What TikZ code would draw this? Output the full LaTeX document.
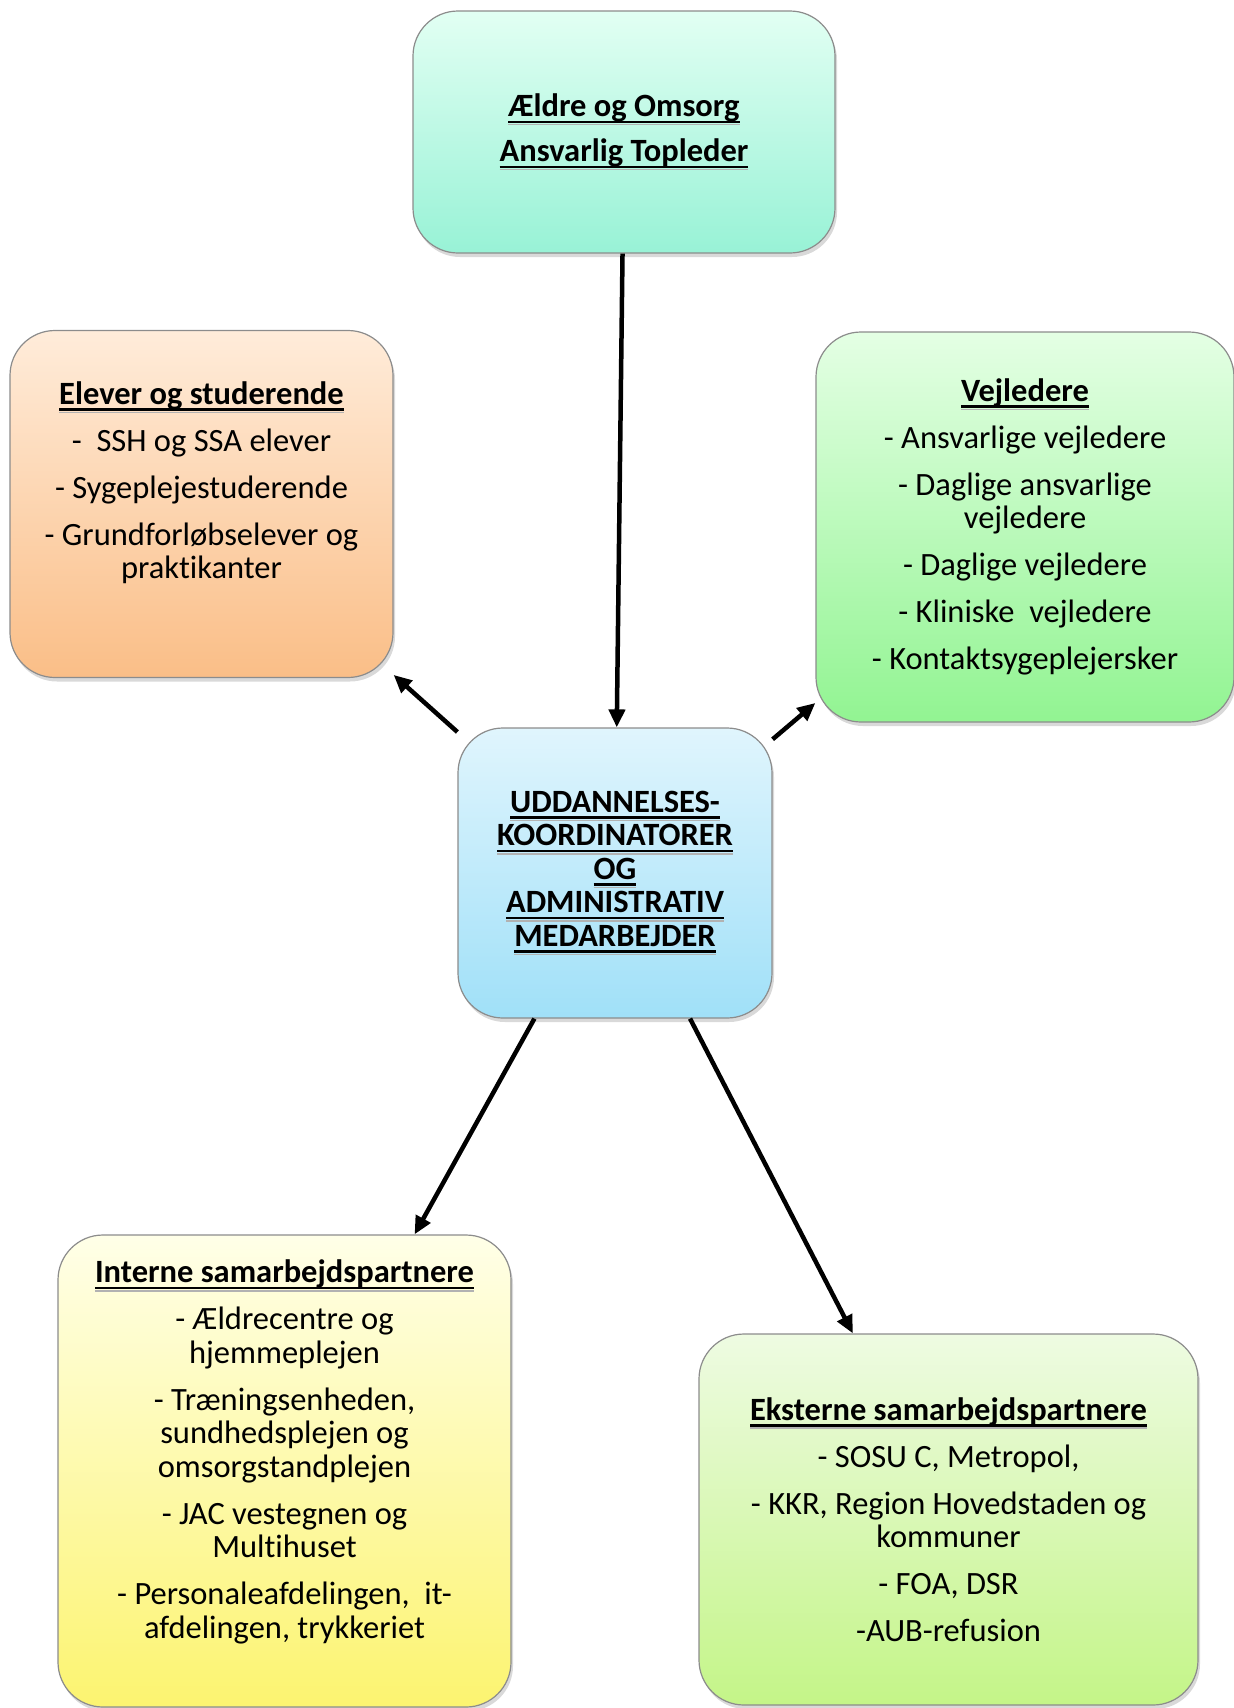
\documentclass[tikz,border=0pt]{standalone}
\usepackage{fontspec}
\setmainfont{Carlito}[Ligatures=CommonOff]
\usepackage{xcolor}
\usepackage{tikz}
\usetikzlibrary{arrows.meta, shadows}
\definecolor{boxline}{RGB}{140,140,140}
\definecolor{ledertop}{RGB}{226,255,243}
\definecolor{lederbot}{RGB}{152,242,214}
\definecolor{koordtop}{RGB}{224,245,253}
\definecolor{koordbot}{RGB}{160,224,248}
\definecolor{elevtop}{RGB}{255,236,218}
\definecolor{elevbot}{RGB}{250,190,135}
\definecolor{vejltop}{RGB}{228,255,228}
\definecolor{vejlbot}{RGB}{146,244,146}
\definecolor{interntop}{RGB}{255,255,232}
\definecolor{internbot}{RGB}{252,244,112}
\definecolor{eksttop}{RGB}{238,251,226}
\definecolor{ekstbot}{RGB}{196,245,136}
\newsavebox{\undlbox}
\newcommand{\undl}[1]{\sbox{\undlbox}{#1}\rlap{\color{gray!60}\rule[-9pt]{\wd\undlbox}{1.6pt}}\rlap{\rule[-6.5pt]{\wd\undlbox}{2.4pt}}\usebox{\undlbox}}

\begin{document}
\begin{tikzpicture}[x=1pt, y=-1pt,
    box/.style={draw=boxline, line width=1.2pt, rounded corners=45pt, align=center, inner sep=0pt,
      font=\fontsize{32.5}{33.5}\selectfont,
      drop shadow={shadow xshift=2pt, shadow yshift=-4pt, opacity=0.3}},
    link/.style={line width=4.5pt, -{Triangle[length=18pt, width=16pt]}}]
    \useasboundingbox (0,0) rectangle (1234,1708);

    \node[box, top color=ledertop, bottom color=lederbot, minimum width=422pt, minimum height=242pt] (leder) at (624,132)
        {\textbf{\undl{Ældre og Omsorg}}\\[11.5pt]\textbf{\undl{Ansvarlig Topleder}}};
    \node[box, top color=koordtop, bottom color=koordbot, minimum width=314pt, minimum height=290pt,
        font=\fontsize{32.5}{33.5}\selectfont\bfseries] (koord) at (615,873)
        {\undl{UDDANNELSES-}\\\undl{KOORDINATORER}\\\undl{OG}\\\undl{ADMINISTRATIV}\\\undl{MEDARBEJDER}};
    \node[box, top color=elevtop, bottom color=elevbot, minimum width=383pt, minimum height=347pt] (elever) at (201.5,504)
        {\textbf{\undl{Elever og studerende}}\\[13.5pt]-\ \ SSH og SSA elever\\[13.5pt]- Sygeplejestuderende\\[13.5pt]- Grundforløbselever og\\praktikanter\\[4pt]\strut};
    \node[box, top color=vejltop, bottom color=vejlbot, minimum width=418pt, minimum height=390pt] (vejl) at (1025,527)
        {\textbf{\undl{Vejledere}}\\[13.5pt]- Ansvarlige vejledere\\[13.5pt]- Daglige ansvarlige\\vejledere\\[13.5pt]- Daglige vejledere\\[13.5pt]- Kliniske\ \ vejledere\\[13.5pt]- Kontaktsygeplejersker};
    \node[box, top color=interntop, bottom color=internbot, minimum width=453pt, minimum height=472pt] (intern) at (284.5,1471)
        {\textbf{\undl{Interne samarbejdspartnere}}\\[13.5pt]- Ældrecentre og\\hjemmeplejen\\[13.5pt]- Træningsenheden,\\sundhedsplejen og\\omsorgstandplejen\\[13.5pt]- JAC vestegnen og\\Multihuset\\[13.5pt]- Personaleafdelingen,\ \ it-\\afdelingen, trykkeriet\\[0pt]\strut};
    \node[box, top color=eksttop, bottom color=ekstbot, minimum width=499pt, minimum height=371pt] (ekstern) at (948.5,1519.5)
        {\textbf{\undl{Eksterne samarbejdspartnere}}\\[13.5pt]- SOSU C, Metropol,\\[13.5pt]- KKR, Region Hovedstaden og\\kommuner\\[13.5pt]- FOA, DSR\\[13.5pt]-AUB-refusion};

    \draw[link] (leder) -- (koord);
    \draw[link] (koord) -- (elever);
    \draw[link] (koord) -- (vejl);
    \draw[link] (koord) -- (intern);
    \draw[link] (koord) -- (ekstern);
\end{tikzpicture}
\end{document}
